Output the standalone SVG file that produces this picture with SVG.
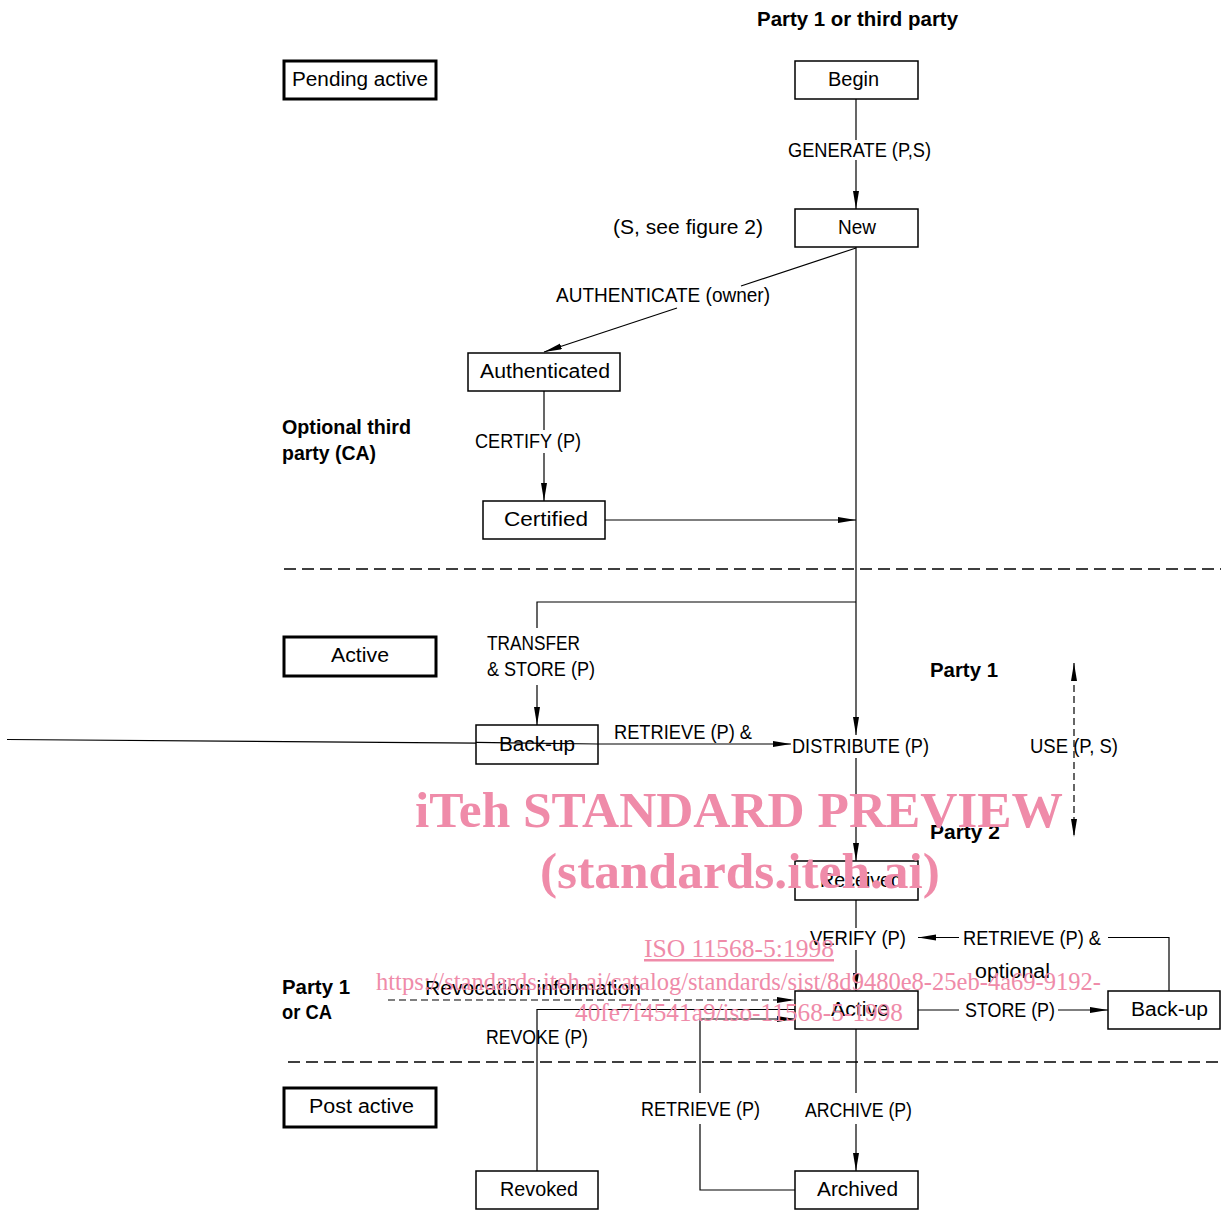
<svg xmlns="http://www.w3.org/2000/svg" width="1221" height="1212" viewBox="0 0 1221 1212">
<style>
.bg{fill:#fff}
.box{fill:#fff;stroke:#000;stroke-width:1.5}
.lbl{fill:#fff;stroke:#000;stroke-width:3}
.t{font-family:"Liberation Sans",Arial,sans-serif;font-size:20px;fill:#000}
.b{font-family:"Liberation Sans",Arial,sans-serif;font-size:20px;font-weight:bold;fill:#000}
.c{fill:none;stroke:#000;stroke-width:1.2}
.d{fill:none;stroke:#000;stroke-width:1.2;stroke-dasharray:7 4}
.sep{fill:none;stroke:#000;stroke-width:1.3;stroke-dasharray:12 6}
.wm{font-family:"Liberation Serif","Times New Roman",serif;fill:#EF8BA9}
</style>
<defs>
<marker id="ah" markerUnits="userSpaceOnUse" markerWidth="20" markerHeight="8" refX="18" refY="3" orient="auto">
<path d="M0,0 L18,3 L0,6 z" fill="#000"/>
</marker>
<marker id="ahs" markerUnits="userSpaceOnUse" markerWidth="20" markerHeight="8" refX="0" refY="3" orient="auto">
<path d="M18,0 L0,3 L18,6 z" fill="#000"/>
</marker>
</defs>
<rect class="bg" x="0" y="0" width="1221" height="1212"/>

<g id="separators">
<line class="sep" x1="284" y1="569" x2="1221" y2="569"/>
<line class="sep" x1="288" y1="1062" x2="1221" y2="1062"/>
</g>

<g id="connectors">
<line class="c" x1="856" y1="99" x2="856" y2="140"/>
<line class="c" x1="856" y1="160" x2="856" y2="209" marker-end="url(#ah)"/>
<line class="c" x1="856" y1="248" x2="741" y2="286"/>
<line class="c" x1="677" y1="308" x2="544" y2="352" marker-end="url(#ah)"/>
<line class="c" x1="544" y1="391" x2="544" y2="430"/>
<line class="c" x1="544" y1="453" x2="544" y2="501" marker-end="url(#ah)"/>
<line class="c" x1="605" y1="520" x2="856" y2="520" marker-end="url(#ah)"/>
<line class="c" x1="856" y1="247" x2="856" y2="735" marker-end="url(#ah)"/>
<line class="c" x1="856" y1="758" x2="856" y2="861" marker-end="url(#ah)"/>
<polyline class="c" points="856,602 537,602 537,628"/>
<line class="c" x1="537" y1="685" x2="537" y2="725" marker-end="url(#ah)"/>
<line class="c" x1="7" y1="739.5" x2="598" y2="744"/>
<line class="c" x1="598" y1="744" x2="791" y2="744" marker-end="url(#ah)"/>
<line class="d" x1="1074" y1="663" x2="1074" y2="837" marker-start="url(#ahs)" marker-end="url(#ah)"/>
<line class="c" x1="856" y1="900" x2="856" y2="928"/>
<line class="c" x1="856" y1="950" x2="856" y2="991" marker-end="url(#ah)"/>
<polyline class="c" points="1169,991 1169,937.5 1108,937.5"/>
<line class="c" x1="959" y1="937.5" x2="918" y2="937.5" marker-end="url(#ah)"/>
<line class="c" x1="918" y1="1010" x2="959" y2="1010"/>
<line class="c" x1="1058" y1="1010" x2="1108" y2="1010" marker-end="url(#ah)"/>
<line class="d" x1="388" y1="1000" x2="795" y2="1000" marker-end="url(#ah)"/>
<polyline class="c" points="537,1171 537,1009.5 795,1009.5"/>
<polyline class="c" points="795,1190 700,1190 700,1124"/>
<polyline class="c" points="700,1093 700,1019 795,1019" marker-end="url(#ah)"/>
<line class="c" x1="856" y1="1029" x2="856" y2="1093"/>
<line class="c" x1="856" y1="1124" x2="856" y2="1171" marker-end="url(#ah)"/>
</g>

<g id="phase-pending">
<rect class="lbl" x="284" y="61" width="152" height="38"/>
<text class="t" x="292" y="86" textLength="136" lengthAdjust="spacingAndGlyphs">Pending active</text>
</g>
<g id="phase-active">
<rect class="lbl" x="284" y="637" width="152" height="39"/>
<text class="t" x="331" y="662" textLength="58" lengthAdjust="spacingAndGlyphs">Active</text>
</g>
<g id="phase-post">
<rect class="lbl" x="284" y="1088" width="152" height="39"/>
<text class="t" x="309" y="1113" textLength="105" lengthAdjust="spacingAndGlyphs">Post active</text>
</g>

<g id="node-begin">
<rect class="box" x="795" y="61" width="123" height="38"/>
<text class="t" x="828" y="86" textLength="51" lengthAdjust="spacingAndGlyphs">Begin</text>
</g>
<g id="node-new">
<rect class="box" x="795" y="209" width="123" height="38"/>
<text class="t" x="838" y="234" textLength="38" lengthAdjust="spacingAndGlyphs">New</text>
</g>
<g id="node-authenticated">
<rect class="box" x="468" y="353" width="152" height="38"/>
<text class="t" x="480" y="378" textLength="130" lengthAdjust="spacingAndGlyphs">Authenticated</text>
</g>
<g id="node-certified">
<rect class="box" x="483" y="501" width="122" height="38"/>
<text class="t" x="504" y="526" textLength="84" lengthAdjust="spacingAndGlyphs">Certified</text>
</g>
<g id="node-backup1">
<rect class="box" x="476" y="725" width="122" height="39"/>
<line class="c" x1="476" y1="742.4" x2="598" y2="744"/>
<text class="t" x="499" y="751" textLength="76" lengthAdjust="spacingAndGlyphs">Back-up</text>
</g>
<g id="node-received">
<rect class="box" x="795" y="861" width="123" height="39"/>
<text class="t" x="820" y="887" textLength="82" lengthAdjust="spacingAndGlyphs">Received</text>
</g>
<g id="node-active">
<rect class="box" x="795" y="991" width="123" height="38"/>
<text class="t" x="831" y="1016" textLength="58" lengthAdjust="spacingAndGlyphs">Active</text>
</g>
<g id="node-backup2">
<rect class="box" x="1108" y="991" width="112" height="38"/>
<text class="t" x="1131" y="1016" textLength="77" lengthAdjust="spacingAndGlyphs">Back-up</text>
</g>
<g id="node-revoked">
<rect class="box" x="476" y="1171" width="122" height="38"/>
<text class="t" x="500" y="1196" textLength="78" lengthAdjust="spacingAndGlyphs">Revoked</text>
</g>
<g id="node-archived">
<rect class="box" x="795" y="1171" width="123" height="38"/>
<text class="t" x="817" y="1196" textLength="81" lengthAdjust="spacingAndGlyphs">Archived</text>
</g>

<g id="labels">
<text class="b" x="757" y="26" textLength="201" lengthAdjust="spacingAndGlyphs">Party 1 or third party</text>
<text class="t" x="788" y="157" textLength="143" lengthAdjust="spacingAndGlyphs">GENERATE (P,S)</text>
<text class="t" x="613" y="234" textLength="150" lengthAdjust="spacingAndGlyphs">(S, see figure 2)</text>
<text class="t" x="556" y="302" textLength="214" lengthAdjust="spacingAndGlyphs">AUTHENTICATE (owner)</text>
<text class="b" x="282" y="434" textLength="129" lengthAdjust="spacingAndGlyphs">Optional third</text>
<text class="b" x="282" y="460" textLength="94" lengthAdjust="spacingAndGlyphs">party (CA)</text>
<text class="t" x="475" y="448" textLength="106" lengthAdjust="spacingAndGlyphs">CERTIFY (P)</text>
<text class="t" x="487" y="650" textLength="93" lengthAdjust="spacingAndGlyphs">TRANSFER</text>
<text class="t" x="487" y="676" textLength="108" lengthAdjust="spacingAndGlyphs">&amp; STORE (P)</text>
<text class="b" x="930" y="677" textLength="68" lengthAdjust="spacingAndGlyphs">Party 1</text>
<text class="t" x="614" y="739" textLength="138" lengthAdjust="spacingAndGlyphs">RETRIEVE (P) &amp;</text>
<text class="t" x="792" y="753" textLength="137" lengthAdjust="spacingAndGlyphs">DISTRIBUTE (P)</text>
<text class="t" x="1030" y="753" textLength="88" lengthAdjust="spacingAndGlyphs">USE (P, S)</text>
<text class="b" x="930" y="839" textLength="70" lengthAdjust="spacingAndGlyphs">Party 2</text>
<text class="t" x="810" y="945" textLength="96" lengthAdjust="spacingAndGlyphs">VERIFY (P)</text>
<text class="t" x="963" y="945" textLength="138" lengthAdjust="spacingAndGlyphs">RETRIEVE (P) &amp;</text>
<text class="t" x="975" y="978" textLength="75" lengthAdjust="spacingAndGlyphs">optional</text>
<text class="b" x="282" y="994" textLength="68" lengthAdjust="spacingAndGlyphs">Party 1</text>
<text class="b" x="282" y="1019" textLength="50" lengthAdjust="spacingAndGlyphs">or CA</text>
<text class="t" x="425" y="995" textLength="216" lengthAdjust="spacingAndGlyphs">Revocation information</text>
<text class="t" x="965" y="1017" textLength="90" lengthAdjust="spacingAndGlyphs">STORE (P)</text>
<text class="t" x="486" y="1044" textLength="102" lengthAdjust="spacingAndGlyphs">REVOKE (P)</text>
<text class="t" x="641" y="1116" textLength="119" lengthAdjust="spacingAndGlyphs">RETRIEVE (P)</text>
<text class="t" x="805" y="1117" textLength="107" lengthAdjust="spacingAndGlyphs">ARCHIVE (P)</text>
</g>

<g id="watermark">
<text class="wm" x="415" y="827" font-size="51" font-weight="bold" textLength="648" lengthAdjust="spacingAndGlyphs">iTeh STANDARD PREVIEW</text>
<text class="wm" x="540" y="888" font-size="50" font-weight="bold" textLength="400" lengthAdjust="spacingAndGlyphs">(standards.iteh.ai)</text>
<text class="wm" x="644" y="957" font-size="25" text-decoration="underline" textLength="190" lengthAdjust="spacingAndGlyphs">ISO 11568-5:1998</text>
<text class="wm" x="376" y="990" font-size="25" textLength="725" lengthAdjust="spacingAndGlyphs">https://standards.iteh.ai/catalog/standards/sist/8d9480e8-25eb-4a69-9192-</text>
<text class="wm" x="575" y="1021" font-size="25" textLength="328" lengthAdjust="spacingAndGlyphs">40fe7f4541a9/iso-11568-5-1998</text>
</g>
</svg>
